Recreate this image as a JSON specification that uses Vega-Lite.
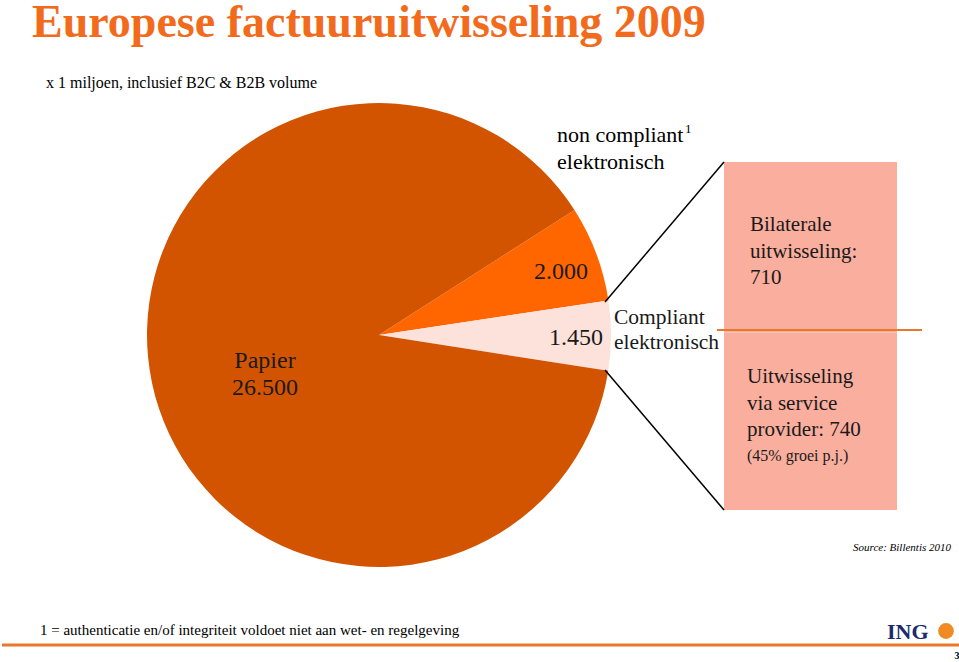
{
  "$schema": "https://vega.github.io/schema/vega-lite/v6.json",
  "width": 959,
  "height": 662,
  "autosize": {"type": "fit", "contains": "padding"},
  "padding": 0,
  "background": "white",
  "config": {"view": {"stroke": null}, "font": "Liberation Serif"},
  "layer": [
    {
      "data": {"values": [
        {"category": "non compliant elektronisch", "value": 2000, "order": 1},
        {"category": "Compliant elektronisch", "value": 1450, "order": 2},
        {"category": "Papier", "value": 26500, "order": 3}
      ]},
      "mark": {"type": "arc", "x": 377, "y": 335, "outerRadius": 232, "stroke": null},
      "encoding": {
        "theta": {"field": "value", "type": "quantitative", "stack": true, "scale": {"range": [1.002, 7.2852]}},
        "order": {"field": "order", "type": "quantitative"},
        "color": {"field": "category", "type": "nominal", "legend": null,
          "scale": {"domain": ["non compliant elektronisch", "Compliant elektronisch", "Papier"], "range": ["#FF6600", "#FDE1DB", "#D35400"]}}
      }
    },
    {
      "data": {"values": [
        {"part": "Bilaterale uitwisseling", "value": 710, "order": 1},
        {"part": "Uitwisseling via service provider", "value": 740, "order": 2}
      ]},
      "mark": {"type": "bar", "color": "#FAAE9E", "orient": "vertical"},
      "encoding": {
        "y": {"field": "value", "type": "quantitative", "stack": true, "axis": null, "scale": {"domain": [0, 1450], "range": [162, 510], "nice": false, "zero": true}},
        "order": {"field": "order", "type": "quantitative"},
        "x": {"value": 722},
        "x2": {"value": 895}
      }
    },
    {
      "data": {"values": [{"a": 1}]},
      "mark": {"type": "rule", "color": "#000000", "strokeWidth": 1.5},
      "encoding": {"x": {"value": 603}, "y": {"value": 302}, "x2": {"value": 722}, "y2": {"value": 162}}
    },
    {
      "data": {"values": [{"a": 1}]},
      "mark": {"type": "rule", "color": "#000000", "strokeWidth": 1.5},
      "encoding": {"x": {"value": 603}, "y": {"value": 370}, "x2": {"value": 722}, "y2": {"value": 510}}
    },
    {
      "data": {"values": [{"a": 1}]},
      "mark": {"type": "rule", "color": "#E8782A", "strokeWidth": 2},
      "encoding": {"x": {"value": 715}, "y": {"value": 330}, "x2": {"value": 920}, "y2": {"value": 330}}
    },
    {
      "data": {"values": [{"a": 1}]},
      "mark": {"type": "rule", "color": "#E8782A", "strokeWidth": 3},
      "encoding": {"x": {"value": 0}, "y": {"value": 645}, "x2": {"value": 959}, "y2": {"value": 645}}
    },
    {
      "data": {"values": [{"t": "Europese factuuruitwisseling 2009"}]},
      "mark": {"type": "text", "x": 30, "y": 37, "align": "left", "baseline": "alphabetic", "fontSize": 46, "fontWeight": "bold", "color": "#F26B1D"},
      "encoding": {"text": {"field": "t"}}
    },
    {
      "data": {"values": [{"t": "x 1 miljoen, inclusief B2C & B2B volume"}]},
      "mark": {"type": "text", "x": 44, "y": 83, "align": "left", "baseline": "middle", "fontSize": 16, "color": "#000000"},
      "encoding": {"text": {"field": "t"}}
    },
    {
      "data": {"values": [{"t": "non compliant\nelektronisch"}]},
      "mark": {"type": "text", "x": 555, "y": 135, "align": "left", "baseline": "middle", "fontSize": 22, "lineHeight": 27, "lineBreak": "\n", "color": "#000000"},
      "encoding": {"text": {"field": "t"}}
    },
    {
      "data": {"values": [{"t": "1"}]},
      "mark": {"type": "text", "x": 683, "y": 129, "align": "left", "baseline": "middle", "fontSize": 13, "color": "#000000"},
      "encoding": {"text": {"field": "t"}}
    },
    {
      "data": {"values": [{"t": "2.000"}]},
      "mark": {"type": "text", "x": 559, "y": 272, "align": "center", "baseline": "middle", "fontSize": 24, "color": "#1a1a1a"},
      "encoding": {"text": {"field": "t"}}
    },
    {
      "data": {"values": [{"t": "1.450"}]},
      "mark": {"type": "text", "x": 574, "y": 338, "align": "center", "baseline": "middle", "fontSize": 24, "color": "#1a1a1a"},
      "encoding": {"text": {"field": "t"}}
    },
    {
      "data": {"values": [{"t": "Papier\n26.500"}]},
      "mark": {"type": "text", "x": 263, "y": 361, "align": "center", "baseline": "middle", "fontSize": 24, "lineHeight": 27, "lineBreak": "\n", "color": "#1a1a1a"},
      "encoding": {"text": {"field": "t"}}
    },
    {
      "data": {"values": [{"t": "Compliant\nelektronisch"}]},
      "mark": {"type": "text", "x": 612, "y": 318, "align": "left", "baseline": "middle", "fontSize": 21.5, "lineHeight": 25, "lineBreak": "\n", "color": "#1a1a1a"},
      "encoding": {"text": {"field": "t"}}
    },
    {
      "data": {"values": [{"t": "Bilaterale\nuitwisseling:\n710"}]},
      "mark": {"type": "text", "x": 748, "y": 225, "align": "left", "baseline": "middle", "fontSize": 21, "lineHeight": 26.5, "lineBreak": "\n", "color": "#1a1a1a"},
      "encoding": {"text": {"field": "t"}}
    },
    {
      "data": {"values": [{"t": "Uitwisseling\nvia service\nprovider: 740"}]},
      "mark": {"type": "text", "x": 745, "y": 377, "align": "left", "baseline": "middle", "fontSize": 21, "lineHeight": 26.5, "lineBreak": "\n", "color": "#1a1a1a"},
      "encoding": {"text": {"field": "t"}}
    },
    {
      "data": {"values": [{"t": "(45% groei p.j.)"}]},
      "mark": {"type": "text", "x": 745, "y": 456, "align": "left", "baseline": "middle", "fontSize": 16, "color": "#1a1a1a"},
      "encoding": {"text": {"field": "t"}}
    },
    {
      "data": {"values": [{"t": "Source: Billentis 2010"}]},
      "mark": {"type": "text", "x": 949, "y": 548, "align": "right", "baseline": "middle", "fontSize": 11, "fontStyle": "italic", "color": "#000000"},
      "encoding": {"text": {"field": "t"}}
    },
    {
      "data": {"values": [{"t": "1 =  authenticatie en/of integriteit voldoet niet aan wet- en regelgeving"}]},
      "mark": {"type": "text", "x": 38, "y": 630, "align": "left", "baseline": "middle", "fontSize": 15, "color": "#000000"},
      "encoding": {"text": {"field": "t"}}
    },
    {
      "data": {"values": [{"t": "ING"}]},
      "mark": {"type": "text", "x": 885, "y": 639, "align": "left", "baseline": "alphabetic", "fontSize": 22, "fontWeight": "bold", "color": "#1B2A6E"},
      "encoding": {"text": {"field": "t"}}
    },
    {
      "data": {"values": [{"a": 1}]},
      "mark": {"type": "point", "shape": "circle", "filled": true, "x": 944, "y": 631, "size": 250, "color": "#F08A24", "opacity": 1},
      "encoding": {}
    },
    {
      "data": {"values": [{"t": "3"}]},
      "mark": {"type": "text", "x": 955, "y": 656, "align": "center", "baseline": "middle", "fontSize": 10, "fontWeight": "bold", "color": "#000000"},
      "encoding": {"text": {"field": "t"}}
    }
  ]
}
